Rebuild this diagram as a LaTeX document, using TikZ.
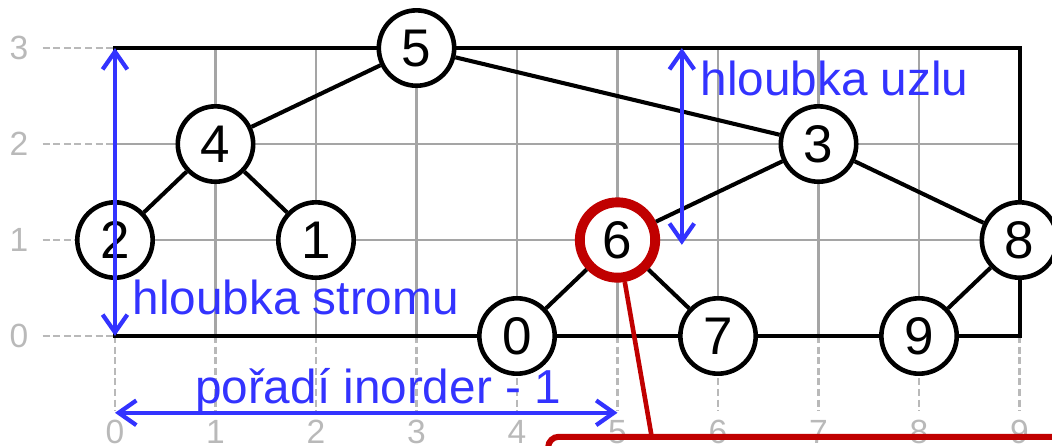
\documentclass[tikz,border=0pt]{standalone}
\usepackage{fontspec}
\setmainfont{Liberation Sans}
\usetikzlibrary{arrows.meta}
\definecolor{depthblue}{RGB}{51,51,255}
\definecolor{markred}{RGB}{192,0,0}
\definecolor{gridgray}{RGB}{165,165,165}
\definecolor{labelgray}{RGB}{185,185,185}

\begin{document}
\begin{tikzpicture}[
    x=1cm, y=0.955cm,
    vertex/.style={circle, draw, line width=1.3pt, fill=white, minimum size=0.75cm, inner sep=0pt, font=\fontsize{15}{15}\selectfont},
    edge/.style={line width=1.15pt},
    gridline/.style={gridgray, line width=0.6pt},
    guide/.style={labelgray, line width=0.6pt, dash pattern=on 2pt off 1pt},
    axislabel/.style={labelgray, font=\fontsize{9.5}{9.5}\selectfont},
    measure/.style={{Straight Barb[length=5pt, width=7pt]}-{Straight Barb[length=5pt, width=7pt]}, depthblue, line width=1.2pt},
    note/.style={depthblue, inner sep=0pt, anchor=base west, font=\fontsize{13.5}{13.5}\selectfont}
]
    \useasboundingbox (-1.144cm,-1.085cm) rectangle (9.323cm,3.343cm);

    % Grid and guides
    \foreach \i in {1,...,8}
        \draw[gridline] (\i,0) -- (\i,3);
    \foreach \j in {1,2}
        \draw[gridline] (0,\j) -- (9,\j);
    \foreach \j in {0,...,3} {
        \draw[guide] (-0.72,\j) -- (0,\j);
        \node[axislabel] (ylab\j) at (-0.955,\j) {\j};
    }
    \foreach \i in {0,...,9} {
        \draw[guide] (\i,0) -- (\i,-0.78);
        \node[axislabel] (xlab\i) at (\i,-1.0) {\i};
    }
    \draw[line width=1.15pt] (0,0) rectangle (9,3);

    % Tree
    \node[vertex] (n5) at (3,3) {5};
    \node[vertex] (n4) at (1,2) {4};
    \node[vertex] (n2) at (0,1) {2};
    \node[vertex] (n1) at (2,1) {1};
    \node[vertex] (n3) at (7,2) {3};
    \node[vertex, draw=markred, line width=2.8pt] (n6) at (5,1) {6};
    \node[vertex] (n8) at (9,1) {8};
    \node[vertex] (n0) at (4,0) {0};
    \node[vertex] (n7) at (6,0) {7};
    \node[vertex] (n9) at (8,0) {9};

    \draw[edge] (n5) -- (n4);
    \draw[edge] (n5) -- (n3);
    \draw[edge] (n4) -- (n2);
    \draw[edge] (n4) -- (n1);
    \draw[edge] (n3) -- (n6);
    \draw[edge] (n3) -- (n8);
    \draw[edge] (n6) -- (n0);
    \draw[edge] (n6) -- (n7);
    \draw[edge] (n8) -- (n9);

    % Callout
    \coordinate (pin) at (5.34,-1.05);
    \draw[markred, line width=1.3pt] (n6) -- (pin);
    \draw[markred, line width=1.7pt, rounded corners=3pt] (4.31,-1.05) rectangle (10.5,-2.5);

    % Measures
    \coordinate (treetop) at (0,3);
    \coordinate (treebottom) at (0,0);
    \coordinate (nodetop) at (5.64,3);
    \coordinate (nodebottom) at (5.64,0.95);
    \coordinate (orderstart) at (0,-0.8);
    \coordinate (orderend) at (5,-0.8);
    \draw[measure] (treetop) -- (treebottom);
    \draw[measure] (nodetop) -- (nodebottom);
    \draw[measure] (orderstart) -- (orderend);

    \node[note] (treedepth) at (0.17,0.22) {hloubka stromu};
    \node[note] (nodedepth) at (5.82,2.51) {hloubka uzlu};
    \node[note] (inorder) at (0.79,-0.70) {pořadí inorder - 1};
\end{tikzpicture}
\end{document}
